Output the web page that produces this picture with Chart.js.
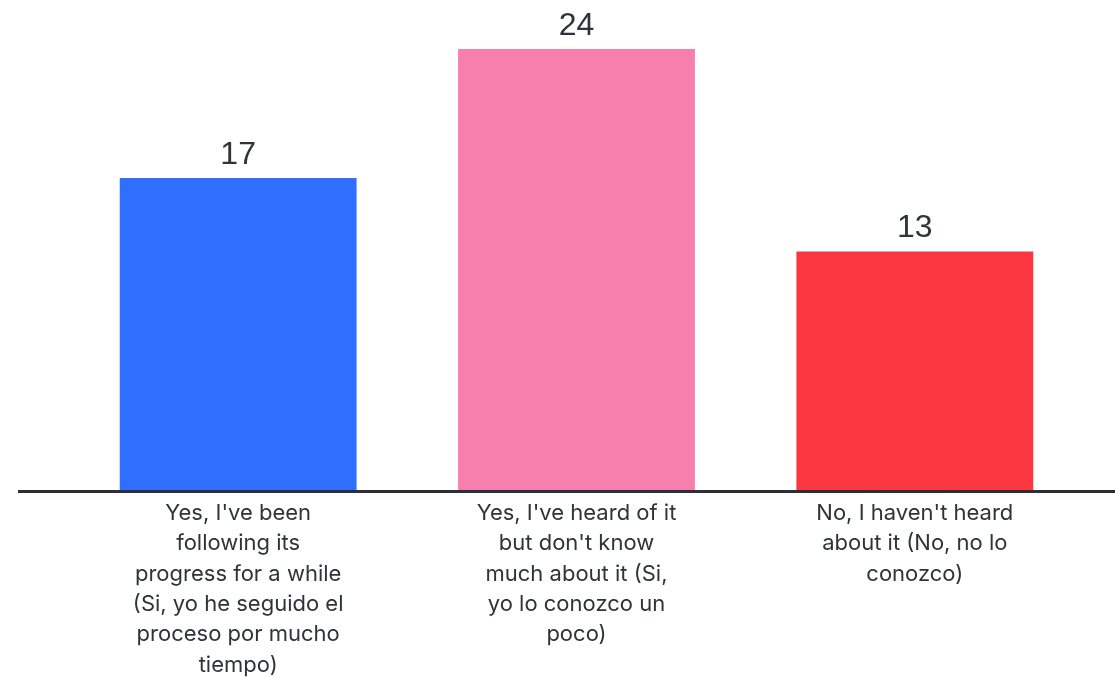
<!DOCTYPE html>
<html>
<head>
<meta charset="utf-8">
<script src="https://cdn.jsdelivr.net/npm/chart.js@4"></script>
<style>
  html, body { margin: 0; padding: 0; background: #fff; }
  #wrap { width: 1115px; height: 678px; }
</style>
</head>
<body>
<div id="wrap"><canvas id="chart"></canvas></div>
<script>
// Chart data
const categories = [
    ["Yes, I've been", "following its", "progress for a while", "(Si, yo he seguido el", "proceso por mucho", "tiempo)"],
    ["Yes, I've heard of it", "but don't know", "much about it (Si,", "yo lo conozco un", "poco)"],
    ["No, I haven't heard", "about it (No, no lo", "conozco)"]
];
const responses = [17, 24, 13];
const barColors = ['#306eff', '#f77fad', '#fb3640'];

const textColor = '#2f343b';

// Draws the count above every bar
const valueLabels = {
    id: 'valueLabels',
    afterDatasetsDraw(chart) {
        const ctx = chart.ctx;
        const meta = chart.getDatasetMeta(0);
        ctx.save();
        ctx.font = '32px "Liberation Sans", Arial, sans-serif';
        ctx.fillStyle = textColor;
        ctx.textAlign = 'center';
        ctx.textBaseline = 'bottom';
        meta.data.forEach((bar, i) => {
            ctx.fillText(responses[i], bar.x, bar.y - 7);
        });
        ctx.restore();
    }
};

// Baseline runs past the chart area on both sides
const baseLine = {
    id: 'baseLine',
    afterDatasetsDraw(chart) {
        const ctx = chart.ctx;
        const y = chart.scales.y.getPixelForValue(0);
        ctx.save();
        ctx.strokeStyle = '#2b2f36';
        ctx.lineWidth = 3;
        ctx.beginPath();
        ctx.moveTo(chart.chartArea.left - 51, y + 0.5);
        ctx.lineTo(chart.width, y + 0.5);
        ctx.stroke();
        ctx.restore();
    }
};

new Chart(document.getElementById('chart').getContext('2d'), {
    type: 'bar',
    data: {
        labels: categories,
        datasets: [{
            data: responses,
            backgroundColor: barColors,
            borderWidth: 0,
            categoryPercentage: 1,
            barPercentage: 0.7
        }]
    },
    options: {
        responsive: true,
        maintainAspectRatio: false,
        animation: false,
        layout: { padding: { left: 69, right: 31, top: 49, bottom: 0 } },
        plugins: {
            legend: { display: false },
            tooltip: { enabled: false }
        },
        scales: {
            x: {
                grid: { display: false, drawTicks: false },
                border: { display: false },
                afterFit(scale) { scale.height = 187; },
                ticks: {
                    color: textColor,
                    font: { family: 'Inter, "Noto Sans", sans-serif', size: 22, lineHeight: 1.38 },
                    padding: 7,
                    maxRotation: 0,
                    autoSkip: false
                }
            },
            y: {
                display: false,
                min: 0,
                max: 24
            }
        }
    },
    plugins: [valueLabels, baseLine]
});
</script>
</body>
</html>
